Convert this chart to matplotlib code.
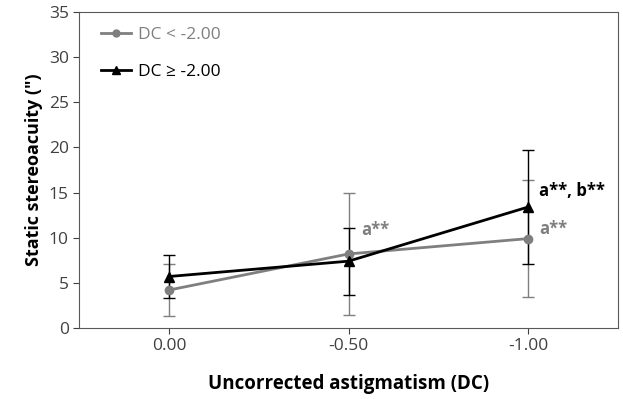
import matplotlib.pyplot as plt
from matplotlib.lines import Line2D
import numpy as np

plt.rcParams['font.family'] = ['Open Sans', 'DejaVu Sans']

x_labels = ["0.00", "-0.50", "-1.00"]
low_dc = [4.2, 8.2, 9.9]        # DC < -2.00
low_err = [2.9, 6.8, 6.5]
high_dc = [5.7, 7.4, 13.4]      # DC >= -2.00
high_err = [2.4, 3.7, 6.3]

gray = '#7f7f7f'
x = np.arange(len(x_labels))

fig = plt.figure(figsize=(6.23, 3.99), dpi=100)
ax = fig.add_axes([0.127, 0.178, 0.865, 0.792])

ax.errorbar(x, low_dc, yerr=low_err, color=gray, marker='o', markersize=6,
            linewidth=2, elinewidth=1, capsize=4, capthick=1)
ax.errorbar(x, high_dc, yerr=high_err, color='black', marker='^', markersize=7,
            linewidth=2, elinewidth=1, capsize=4, capthick=1)

ax.text(1.07, low_dc[1] + 2.6, 'a**', color=gray, fontsize=12, fontweight='bold', va='center')
ax.text(2.06, low_dc[2] + 1.1, 'a**', color=gray, fontsize=12, fontweight='bold', va='center')
ax.text(2.06, high_dc[2] + 1.8, 'a**, b**', color='black', fontsize=12, fontweight='bold', va='center')

ax.set_xlim(-0.5, 2.5)
ax.set_ylim(0, 35)
ax.set_yticks(range(0, 36, 5))
ax.set_xticks(x)
ax.set_xticklabels(x_labels)
ax.tick_params(labelsize=12.5, colors='#404040', length=4)
for s in ax.spines.values():
    s.set_color('#595959')

ax.set_xlabel('Uncorrected astigmatism (DC)', fontsize=13.5, fontweight='bold', labelpad=14)
ax.set_ylabel('Static stereoacuity (")', fontsize=13, fontweight='bold', labelpad=4)

handles = [Line2D([], [], color=gray, marker='o', markersize=5, linewidth=2),
           Line2D([], [], color='black', marker='^', markersize=6, linewidth=2)]
ax.legend(handles, ['DC < -2.00', 'DC ≥ -2.00'], loc='upper left', frameon=False,
          fontsize=12.5, handlelength=1.7, handletextpad=0.4,
          labelcolor=[gray, 'black'], bbox_to_anchor=(0.012, 1.003),
          borderaxespad=0.5, labelspacing=1.2)

fig.savefig('out.png')
